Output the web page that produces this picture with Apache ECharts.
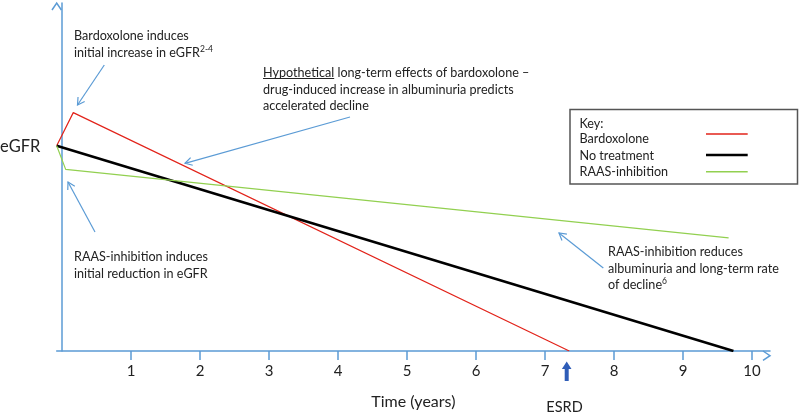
<!DOCTYPE html>
<html>
<head>
<meta charset="utf-8">
<script src="https://cdn.jsdelivr.net/npm/echarts@6/dist/echarts.min.js"></script>
<style>html,body{margin:0;padding:0;background:#fff;}#c{width:802px;height:415px;}</style>
</head>
<body>
<div id="c"></div>
<script>
// ---- data ----
const xTicks = [1, 2, 3, 4, 5, 6, 7, 8, 9, 10];
const seriesNames = ['Bardoxolone', 'No treatment', 'RAAS-inhibition'];
const bardoxolone = [[-0.08, 59], [0.16, 68.5], [7.35, 0]];
const noTreatment = [[-0.08, 59], [9.73, 0]];
const raasInhibition = [[-0.08, 59], [0.05, 52.2], [9.66, 32.5]];

// ---- styling ----
const FONT = 'Lato';
const AXIS_BLUE = '#5B9BD5';
const TXT = '#222';
const colors = ['#E2231A', '#000000', '#92D050'];
const widths = [1.2, 2.6, 1.2];

const chart = echarts.init(document.getElementById('c'));

function measure(text, size) {
  const ctx = document.createElement('canvas').getContext('2d');
  ctx.font = size + 'px ' + FONT;
  return ctx.measureText(text).width;
}

function arrowEls(x1, y1, x2, y2, color, lw, L) {
  const ang = Math.atan2(y2 - y1, x2 - x1);
  const a = Math.PI / 6;
  const p1 = [x2 - L * Math.cos(ang - a), y2 - L * Math.sin(ang - a)];
  const p2 = [x2 - L * Math.cos(ang + a), y2 - L * Math.sin(ang + a)];
  return [
    { type: 'line', shape: { x1, y1, x2, y2 }, style: { stroke: color, lineWidth: lw } },
    { type: 'polyline', shape: { points: [p1, [x2, y2], p2] }, style: { stroke: color, lineWidth: lw, fill: null } }
  ];
}

const AS = 12.6; // annotation font size
const LH = 16.3;
const richSup = {
  n: { fontFamily: FONT, fontSize: AS, fill: TXT, lineHeight: LH },
  s: { fontFamily: FONT, fontSize: 8.5, fill: TXT, lineHeight: LH, verticalAlign: 'top' }
};

function txt(x, y, text, size, extra) {
  return {
    type: 'text', x: x, y: y, z: 10,
    style: Object.assign({ text: text, fontFamily: FONT, fontSize: size, fill: TXT, lineHeight: LH, verticalAlign: 'top', align: 'left' }, extra || {})
  };
}

const hypW = measure('Hypothetical', AS);

// key entries (text centre y, sample line y)
const keyTextY = [139.3, 155.7, 171.5];
const keyLineY = [134, 155, 171.7];
const keyLineW = [1.5, 2.6, 1.5];
const keyEls = [];
seriesNames.forEach((n, i) => {
  keyEls.push(txt(579.5, keyTextY[i], n, AS, { verticalAlign: 'middle' }));
  keyEls.push({ type: 'line', z: 10, shape: { x1: 706, y1: keyLineY[i], x2: 747.7, y2: keyLineY[i] }, style: { stroke: colors[i], lineWidth: keyLineW[i] } });
});

const graphics = [].concat(
  // axis arrowheads
  [{ type: 'polyline', shape: { points: [[52, 10], [56.7, 3], [61.4, 10]] }, style: { stroke: AXIS_BLUE, lineWidth: 1.5, fill: null } }],
  [{ type: 'polyline', shape: { points: [[763, 351], [770, 355.7], [763, 360.4]] }, style: { stroke: AXIS_BLUE, lineWidth: 1.5, fill: null } }],
  // annotation arrows
  arrowEls(104.3, 65, 77.5, 105, AXIS_BLUE, 1.2, 8),
  arrowEls(350, 117, 185, 163.3, AXIS_BLUE, 1.2, 8),
  arrowEls(95, 232, 68, 182, AXIS_BLUE, 1.2, 8),
  arrowEls(603.3, 268, 559, 233, AXIS_BLUE, 1.2, 8),
  // ESRD thick arrow
  [{ type: 'polygon', z: 10, shape: { points: [[566.7, 361.5], [571.5, 369], [568.7, 369], [568.7, 381], [564.7, 381], [564.7, 369], [561.9, 369]] }, style: { fill: '#2F5DB8' } }],
  // texts
  [txt(0, 139, 'eGFR', 16.5)],
  [txt(74, 28, '{n|Bardoxolone induces}\n{n|initial increase in eGFR}{s|2-4}', AS, { rich: richSup })],
  [txt(263, 65, 'Hypothetical', AS)],
  [{ type: 'line', z: 10, shape: { x1: 263, y1: 78.5, x2: 263 + hypW, y2: 78.5 }, style: { stroke: TXT, lineWidth: 1 } }],
  [txt(263 + hypW, 65, ' long-term effects of bardoxolone \u2013', AS)],
  [txt(263, 81.3, 'drug-induced increase in albuminuria predicts\naccelerated decline', AS)],
  [txt(74, 249, 'RAAS-inhibition induces\ninitial reduction in eGFR', AS)],
  [txt(608, 244, '{n|RAAS-inhibition reduces}\n{n|albuminuria and long-term rate}\n{n|of decline}{s|6}', AS, { rich: richSup })],
  [txt(564.5, 399, 'ESRD', 14.5, { align: 'center' })],
  // key box
  [{ type: 'rect', z: 5, shape: { x: 570, y: 109.5, width: 227.5, height: 74.5 }, style: { fill: '#fff', stroke: '#555', lineWidth: 1.5 } }],
  [txt(579.5, 115.5, 'Key:', AS)],
  keyEls
);

chart.setOption({
  animation: false,
  grid: { left: 56.7, right: 32, top: 3, bottom: 59.3 },
  xAxis: {
    type: 'value', min: -0.08, max: 10.26,
    name: 'Time (years)', nameLocation: 'middle', nameGap: 43,
    nameTextStyle: { fontFamily: FONT, fontSize: 16, color: TXT },
    axisLine: { show: true, onZero: false, lineStyle: { color: AXIS_BLUE, width: 1.5 } },
    axisTick: { show: true, customValues: xTicks, length: 9, lineStyle: { color: AXIS_BLUE, width: 1.5 } },
    axisLabel: { show: true, customValues: xTicks, margin: 13, fontFamily: FONT, fontSize: 15, color: TXT },
    splitLine: { show: false }
  },
  yAxis: {
    type: 'value', min: 0, max: 100,
    axisLine: { show: true, lineStyle: { color: AXIS_BLUE, width: 1.5 } },
    axisTick: { show: false }, axisLabel: { show: false }, splitLine: { show: false }
  },
  series: [bardoxolone, noTreatment, raasInhibition].map((d, i) => ({
    name: seriesNames[i], type: 'line', data: d, symbol: 'none', silent: true,
    lineStyle: { color: colors[i], width: widths[i] }, itemStyle: { color: colors[i] }
  })),
  graphic: graphics
});
</script>
</body>
</html>
